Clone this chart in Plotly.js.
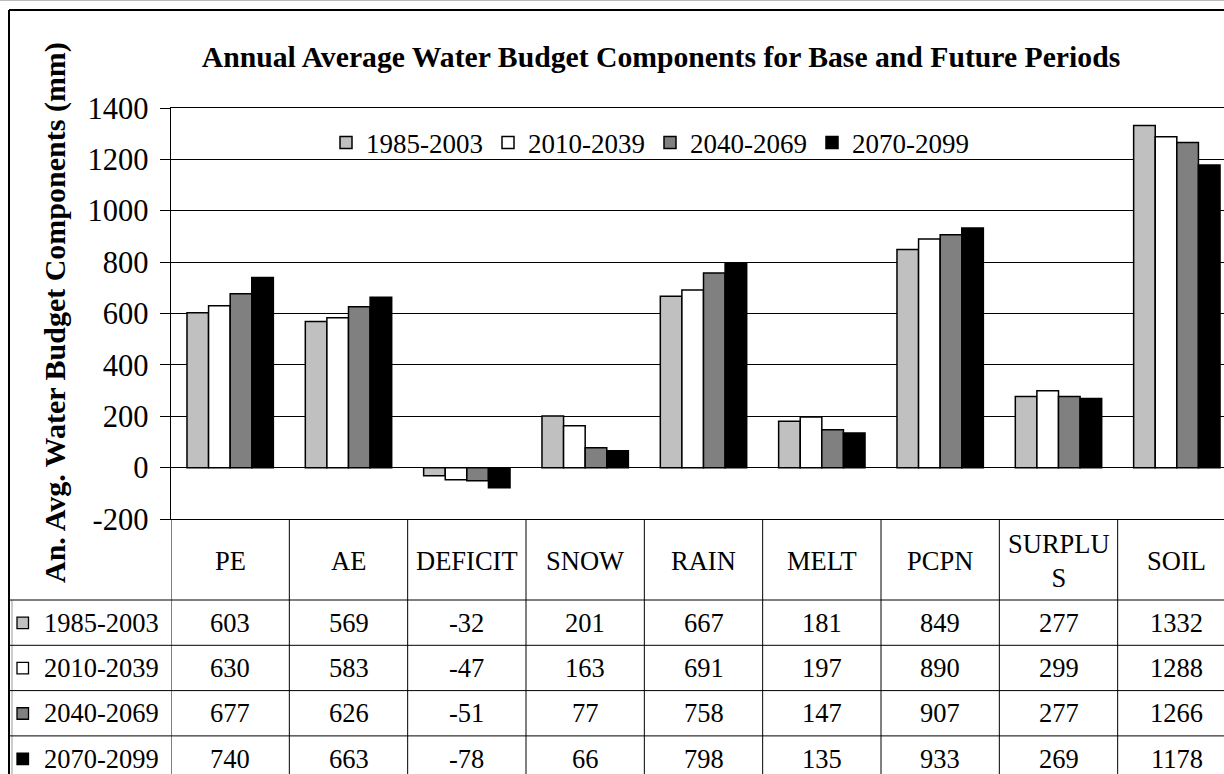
<!DOCTYPE html>
<html><head><meta charset="utf-8">
<script src="https://cdn.plot.ly/plotly-3.0.1.min.js"></script>
<style>html,body{margin:0;padding:0;overflow:hidden;background:#fff}#chart{width:1236px;height:774px}</style>
</head><body><div id="chart"></div>
<script>
const categories = ['PE','AE','DEFICIT','SNOW','RAIN','MELT','PCPN','SURPLUS','SOIL'];
const categoryLabels = ['PE','AE','DEFICIT','SNOW','RAIN','MELT','PCPN','SURPLU<br>S','SOIL'];
const seriesNames = ['1985-2003','2010-2039','2040-2069','2070-2099'];
const values1985 = [603,569,-32,201,667,181,849,277,1332];
const values2010 = [630,583,-47,163,691,197,890,299,1288];
const values2040 = [677,626,-51,77,758,147,907,277,1266];
const values2070 = [740,663,-78,66,798,135,933,269,1178];
const yTickVals = [-200,0,200,400,600,800,1000,1200,1400];
const yTickText = ['-200','0','200','400','600','800','1000','1200','1400'];

const seriesValues = [values1985, values2010, values2040, values2070];
const seriesColors = ['#c0c0c0','#ffffff','#808080','#000000'];

const W = 1236, H = 774, L = 171, T = 108, B = 519;
const plotH = B - T, plotW = W - L;
const py = p => (B - p) / plotH;
const px = p => (p - L) / plotW;
const FONT = '"Liberation Serif", "Times New Roman", Times, serif';
const TABLE_SIZE = 26.5;
const headerBottom = 600, rowH = 45.3;

const traces = seriesNames.map((n, k) => ({
  type: 'bar', name: n, x: categories, y: seriesValues[k],
  marker: {color: seriesColors[k], line: {color: '#000', width: 1.5}},
  hoverinfo: 'x+y+name'
}));

const shapes = [];
const annotations = [];
const line = (o) => shapes.push(Object.assign({type: 'line', line: {color: '#000', width: 1}, layer: 'above'}, o));

// outer border
line({xref: 'paper', yref: 'paper', x0: px(-5), x1: px(W + 5), y0: py(0.5), y1: py(0.5), line: {color: '#bbb', width: 1}});
line({xref: 'paper', yref: 'paper', x0: px(9), x1: px(9), y0: py(10), y1: py(H + 5), line: {color: '#000', width: 2}});
line({xref: 'paper', yref: 'paper', x0: px(9), x1: px(W + 5), y0: py(10), y1: py(10), line: {color: '#000', width: 2}});
line({xref: 'paper', yref: 'paper', x0: px(12), x1: px(12), y0: py(headerBottom), y1: py(H + 5), line: {color: '#999', width: 1}});

// table horizontal lines
for (let k = 0; k < seriesNames.length; k++) {
  const yy = headerBottom + k * rowH;
  line({xref: 'paper', yref: 'paper', x0: px(9), x1: px(W + 5), y0: py(yy), y1: py(yy)});
}
// table vertical lines
for (let i = 0; i <= categories.length; i++) {
  line({xref: 'x', yref: 'paper', x0: i - 0.5, x1: i - 0.5, y0: py(B), y1: py(H + 5)});
}
// header labels
categories.forEach((c, i) => {
  annotations.push({xref: 'x', yref: 'paper', x: c, y: py(561), text: categoryLabels[i],
    showarrow: false, font: {family: FONT, size: TABLE_SIZE, color: '#000'}, xanchor: 'center', yanchor: 'middle'});
});
// rows
seriesNames.forEach((n, k) => {
  const yc = headerBottom + (k + 0.5) * rowH;
  shapes.push({type: 'rect', xref: 'paper', yref: 'paper', x0: px(17), x1: px(28.5), y0: py(yc - 5.5), y1: py(yc + 6),
    fillcolor: seriesColors[k], line: {color: '#000', width: 1.3}, layer: 'above'});
  annotations.push({xref: 'paper', yref: 'paper', x: px(42), y: py(yc), text: n, showarrow: false,
    font: {family: FONT, size: TABLE_SIZE, color: '#000'}, xanchor: 'left', yanchor: 'middle'});
  categories.forEach((c, i) => {
    annotations.push({xref: 'x', yref: 'paper', x: c, y: py(yc), text: String(seriesValues[k][i]),
      showarrow: false, font: {family: FONT, size: TABLE_SIZE, color: '#000'}, xanchor: 'center', yanchor: 'middle'});
  });
});
// y axis title
annotations.push({xref: 'paper', yref: 'paper', x: px(55), y: py(313), text: '<b>An. Avg. Water Budget Components (mm)</b>',
  textangle: -90, showarrow: false, font: {family: FONT, size: 30, color: '#000'}, xanchor: 'center', yanchor: 'middle'});

const layout = {
  width: W, height: H,
  margin: {l: L, r: 0, t: T, b: H - B, pad: 0},
  paper_bgcolor: '#fff', plot_bgcolor: '#fff',
  font: {family: FONT, color: '#000'},
  title: {text: '<b>Annual Average Water Budget Components for Base and Future Periods</b>',
    font: {family: FONT, size: 29.7, color: '#000'}, x: 661 / W, xanchor: 'center', y: 1 - 57 / H, yanchor: 'middle'},
  barmode: 'group', bargap: 0.27, bargroupgap: 0,
  showlegend: true,
  legend: {orientation: 'h', x: px(650), xanchor: 'center', y: py(143), yanchor: 'middle',
    font: {family: FONT, size: 27, color: '#000'}, bgcolor: 'rgba(0,0,0,0)', itemwidth: 30, traceorder: 'normal'},
  xaxis: {type: 'category', range: [-0.5, 8.5], showticklabels: false, showgrid: false, zeroline: false,
    showline: true, mirror: true, linecolor: '#000', linewidth: 1, ticks: '', fixedrange: true},
  yaxis: {range: [-200, 1400], tickvals: yTickVals, ticktext: yTickText, showgrid: true, gridcolor: '#000', gridwidth: 1,
    zeroline: true, zerolinecolor: '#000', zerolinewidth: 1, showline: true, linecolor: '#000', linewidth: 1.5,
    ticks: 'outside', ticklen: 10, tickcolor: '#000', tickwidth: 1, ticklabelstandoff: 5,
    tickfont: {family: FONT, size: 30.5, color: '#000'}, automargin: false, fixedrange: true},
  shapes: shapes, annotations: annotations
};
Plotly.newPlot('chart', traces, layout, {displayModeBar: false, staticPlot: true});
</script></body></html>
